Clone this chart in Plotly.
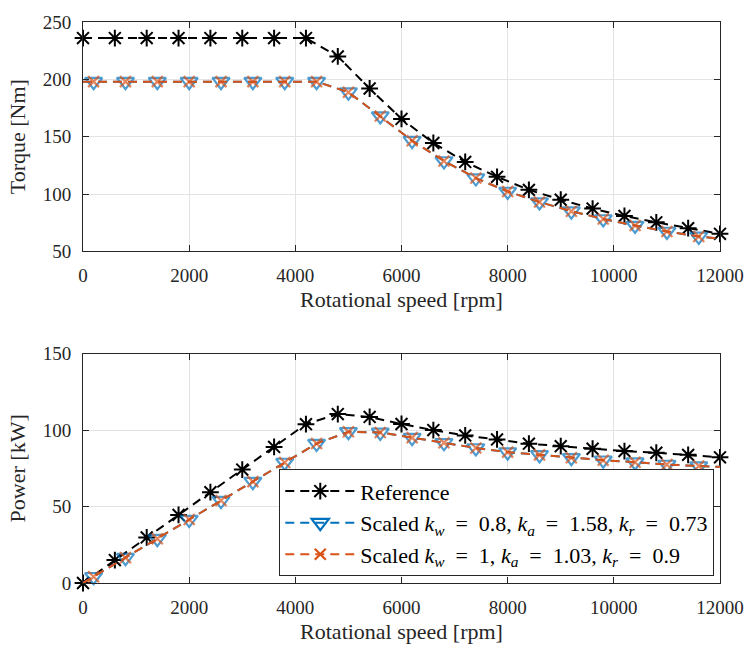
import plotly.graph_objects as go
from plotly.subplots import make_subplots

# ---------------- data ----------------
ref_speed = [0, 600, 1200, 1800, 2400, 3000, 3600, 4200, 4800, 5400, 6000,
             6600, 7200, 7800, 8400, 9000, 9600, 10200, 10800, 11400, 12000]
ref_torque = [236, 236, 236, 236, 236, 236, 236, 236, 220, 192, 165.5,
              144.5, 128, 115, 103.6, 95, 87.3, 80.8, 75.3, 70.2, 65.3]
ref_power = [0, 15, 29.8, 44.5, 59.4, 74.2, 89, 103.9, 110.5, 108.6, 104,
             100, 96.5, 93.9, 91.1, 89.5, 87.8, 86.3, 85.2, 83.8, 82.2]

sc_speed = [0, 200, 800, 1400, 2000, 2600, 3200, 3800, 4400, 5000, 5600,
            6200, 6800, 7400, 8000, 8600, 9200, 9800, 10400, 11000, 11600, 12000]
sc_marker_on = [0] + [1] * 20 + [0]

sc1_torque = [198, 198, 198, 198, 198, 198, 198, 198, 198, 188.8, 168,
              146.5, 128.8, 113.9, 102.2, 93, 85, 78.2, 72.5, 67.3, 63, 61.1]
sc1_power = [0, 4.1, 16.6, 29, 41.5, 53.9, 66.3, 78.8, 91.2, 98.9, 98.5,
             95.1, 91.7, 88.3, 85.6, 83.8, 81.9, 80.3, 79, 77.5, 76.5, 76]

sc2_torque = [198, 198, 198, 198, 198, 198, 198, 198, 198, 188.8, 168,
              146.5, 128.8, 113.9, 102.2, 93, 85, 78.2, 72.5, 67.3, 63, 61.1]
sc2_power = [0, 4.1, 16.6, 29, 41.5, 53.9, 66.3, 78.8, 91.2, 98.9, 98.5,
             95.1, 91.7, 88.3, 85.6, 83.8, 81.9, 80.3, 79, 77.5, 76.5, 76]

EQ = "&nbsp;&nbsp;=&nbsp;&nbsp;"
legend_names = [
    "Reference",
    "Scaled <i>k</i><sub><i>w</i></sub>" + EQ + "0.8, <i>k</i><sub><i>a</i></sub>" + EQ
    + "1.58, <i>k</i><sub><i>r</i></sub>" + EQ + "0.73",
    "Scaled <i>k</i><sub><i>w</i></sub>" + EQ + "1, <i>k</i><sub><i>a</i></sub>" + EQ
    + "1.03, <i>k</i><sub><i>r</i></sub>" + EQ + "0.9",
]

x_ticks = [0, 2000, 4000, 6000, 8000, 10000, 12000]
x_ticktext = ["0", "2000", "4000", "6000", "8000", "10000", "12000"]
torque_ticks = [50, 100, 150, 200, 250]
power_ticks = [0, 50, 100, 150]

# ---------------- styles ----------------
FONT = "Liberation Serif"
BLACK = "#000000"
BLUE = "#0072BD"
ORANGE = "#D95319"
AX = "#262626"
GRID = "#e3e3e3"
DASH = "9px,6px"

fig = make_subplots(rows=2, cols=1, vertical_spacing=0.0)

styles = [
    dict(color=BLACK, symbol="asterisk-open", size=14, lw=2.0),
    dict(color=BLUE, symbol="triangle-down-open", size=15, lw=2.2),
    dict(color=ORANGE, symbol="x-thin-open", size=11, lw=2.2),
]

def add_series(row, x, y, st, sizes=None):
    ms = st["size"] if sizes is None else [st["size"] * s for s in sizes]
    fig.add_trace(go.Scatter(
        x=x, y=y, mode="lines+markers", showlegend=False, cliponaxis=False,
        line=dict(color=st["color"], width=2, dash=DASH),
        marker=dict(symbol=st["symbol"], size=ms,
                    line=dict(color=st["color"], width=st["lw"]),
                    color=st["color"]),
    ), row=row, col=1)

add_series(1, ref_speed, ref_torque, styles[0])
add_series(1, sc_speed, sc1_torque, styles[1], sc_marker_on)
add_series(1, sc_speed, sc2_torque, styles[2], sc_marker_on)
add_series(2, ref_speed, ref_power, styles[0])
add_series(2, sc_speed, sc1_power, styles[1], sc_marker_on)
add_series(2, sc_speed, sc2_power, styles[2], sc_marker_on)

for name, st in zip(legend_names, styles):
    fig.add_trace(go.Scatter(
        x=[None], y=[None], mode="lines+markers", name=name,
        line=dict(color=st["color"], width=2, dash=DASH),
        marker=dict(symbol=st["symbol"], size=st["size"],
                    line=dict(color=st["color"], width=st["lw"]),
                    color=st["color"]),
    ), row=2, col=1)

axis_common = dict(
    showline=True, linecolor=AX, linewidth=1, mirror="ticks",
    ticks="inside", ticklen=6, tickcolor=AX, tickwidth=1,
    showgrid=True, gridcolor=GRID, gridwidth=1, zeroline=False,
    tickfont=dict(family=FONT, size=19, color=AX),
    ticklabelstandoff=7,
)

title_font = dict(family=FONT, size=22, color=AX)
fig.update_xaxes(range=[0, 12000], tickvals=x_ticks, ticktext=x_ticktext, **axis_common)
fig.update_xaxes(title=dict(text="Rotational speed [rpm]", font=title_font, standoff=6),
                 row=1, col=1)
fig.update_xaxes(title=dict(text="Rotational speed [rpm]", font=title_font, standoff=6),
                 row=2, col=1)
fig.update_yaxes(range=[50, 250], tickvals=torque_ticks, **axis_common,
                 title=dict(text="Torque [Nm]", font=title_font, standoff=10),
                 row=1, col=1)
fig.update_yaxes(range=[0, 150], tickvals=power_ticks, **axis_common,
                 title=dict(text="Power [kW]", font=title_font, standoff=10),
                 row=2, col=1)

fig.update_layout(
    width=756, height=651,
    margin=dict(l=83, r=29, t=17, b=64),
    paper_bgcolor="white", plot_bgcolor="white",
    font=dict(family=FONT, color=AX),
    xaxis=dict(domain=[0, 1]), yaxis=dict(domain=[0.5912, 1.0]),
    xaxis2=dict(domain=[0, 1]), yaxis2=dict(domain=[0.0, 0.4088]),
    showlegend=True,
    legend=dict(
        x=0.991, y=0.012, xanchor="right", yanchor="bottom",
        bgcolor="white", bordercolor=AX, borderwidth=1,
        font=dict(family=FONT, size=22, color=BLACK),
        itemwidth=70, tracegroupgap=0,
    ),
)

fig.write_html("out.html")
